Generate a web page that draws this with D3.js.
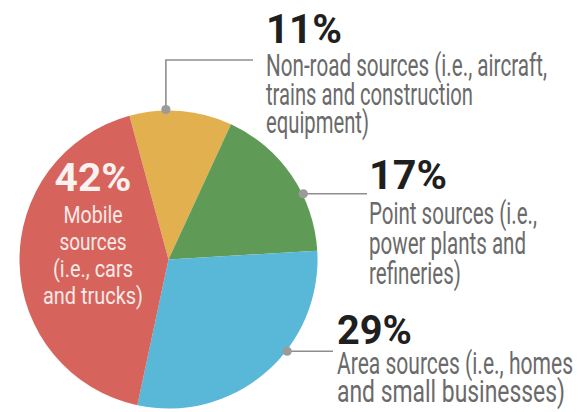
<!DOCTYPE html>
<html>
<head>
<meta charset="utf-8">
<script src="https://cdn.jsdelivr.net/npm/d3@7"></script>
<style>
  html, body { margin: 0; padding: 0; background: #ffffff; }
  svg { display: block; }
  .desc { font-family: "Liberation Sans Narrow", "Roboto", "Liberation Sans", sans-serif; }
  .pct { font-family: "Liberation Sans Narrow", "Roboto", "Liberation Sans", sans-serif; font-weight: bold; }
</style>
</head>
<body>
<script>
// Emission sources, share of total (%)
const categories = ["Non-road sources", "Point sources", "Area sources", "Mobile sources"];
const shares = [11, 17, 29, 42];
const descriptions = [
  ["Non-road sources (i.e., aircraft,", "trains and construction", "equipment)"],
  ["Point sources (i.e.,", "power plants and", "refineries)"],
  ["Area sources (i.e., homes", "and small businesses)"],
  ["Mobile", "sources", "(i.e., cars", "and trucks)"]
];
const sliceColors = ["#e2b04f", "#5f9b56", "#59b7d7", "#d6645d"];

// Callout placement for each slice (angles in degrees, clockwise from 12 o'clock)
const callouts = [
  { anchor: -1,    elbowY: 60,  endX: 253, textX: 266, pctY: 43,  pctW: 76,
    lineY: [76, 104.7, 133.3], lineW: [281, 207, 103] },
  { anchor: 64,    elbowY: null, endX: 367, textX: 369, pctY: 189, pctW: 78,
    lineY: [224, 254, 284], lineW: [168, 157, 92] },
  { anchor: 127.7, elbowY: null, endX: 333, textX: 337, pctY: 344, pctW: 75,
    lineY: [373.5, 402], lineW: [236, 228] },
  { inside: true, centerX: 93, pctY: 191, pctW: 77,
    lineY: [223, 250, 277, 304], lineW: [59, 67, 80, 100] }
];

const width = 578, height = 412;
const cx = 168.5, cy = 259.5, radius = 149;
const rad = d => d * Math.PI / 180;

const svg = d3.select("body").append("svg")
  .attr("width", width)
  .attr("height", height);

const total = d3.sum(shares);
const start = rad(-15.2);
const pie = d3.pie().sort(null).value(d => d)
  .startAngle(start).endAngle(start + 2 * Math.PI);
const arc = d3.arc().innerRadius(0).outerRadius(radius);

const g = svg.append("g").attr("transform", `translate(${cx},${cy})`);

g.selectAll("path.slice")
  .data(pie(shares))
  .join("path")
  .attr("class", "slice")
  .attr("d", arc)
  .attr("fill", (d, i) => sliceColors[i]);

// Leader lines and dots for the outside callouts
callouts.forEach((c, i) => {
  if (c.inside) return;
  const [px, py] = d3.pointRadial(rad(c.anchor), radius + 1);
  const ax = cx + px, ay = cy + py;
  const pts = c.elbowY !== null
    ? [[ax, ay], [ax, c.elbowY], [c.endX, c.elbowY]]
    : [[ax, ay], [c.endX, ay]];
  svg.append("path")
    .attr("d", d3.line()(pts))
    .attr("fill", "none")
    .attr("stroke", "#8e8e8e")
    .attr("stroke-width", 1.6);
  svg.append("circle")
    .attr("cx", ax).attr("cy", ay).attr("r", 4.6)
    .attr("fill", "#9b9b9b");
});

// Percentages and descriptions
callouts.forEach((c, i) => {
  const inside = !!c.inside;
  const anchor = inside ? "middle" : "start";
  const x = inside ? c.centerX : c.textX;

  svg.append("text")
    .attr("class", "pct")
    .attr("x", x).attr("y", c.pctY)
    .attr("text-anchor", anchor)
    .attr("font-size", inside ? 39 : 41)
    .attr("fill", inside ? "#fbf1ef" : "#1f1f1f")
    .attr("textLength", c.pctW)
    .attr("lengthAdjust", "spacingAndGlyphs")
    .text(`${shares[i]}%`);

  descriptions[i].forEach((line, k) => {
    svg.append("text")
      .attr("class", "desc")
      .attr("x", x).attr("y", c.lineY[k])
      .attr("text-anchor", anchor)
      .attr("font-size", inside ? 24 : 31)
      .attr("fill", inside ? "#f7e9e7" : "#6a6a6a")
      .attr("textLength", c.lineW[k])
      .attr("lengthAdjust", "spacingAndGlyphs")
      .text(line);
  });
});
</script>
</body>
</html>
